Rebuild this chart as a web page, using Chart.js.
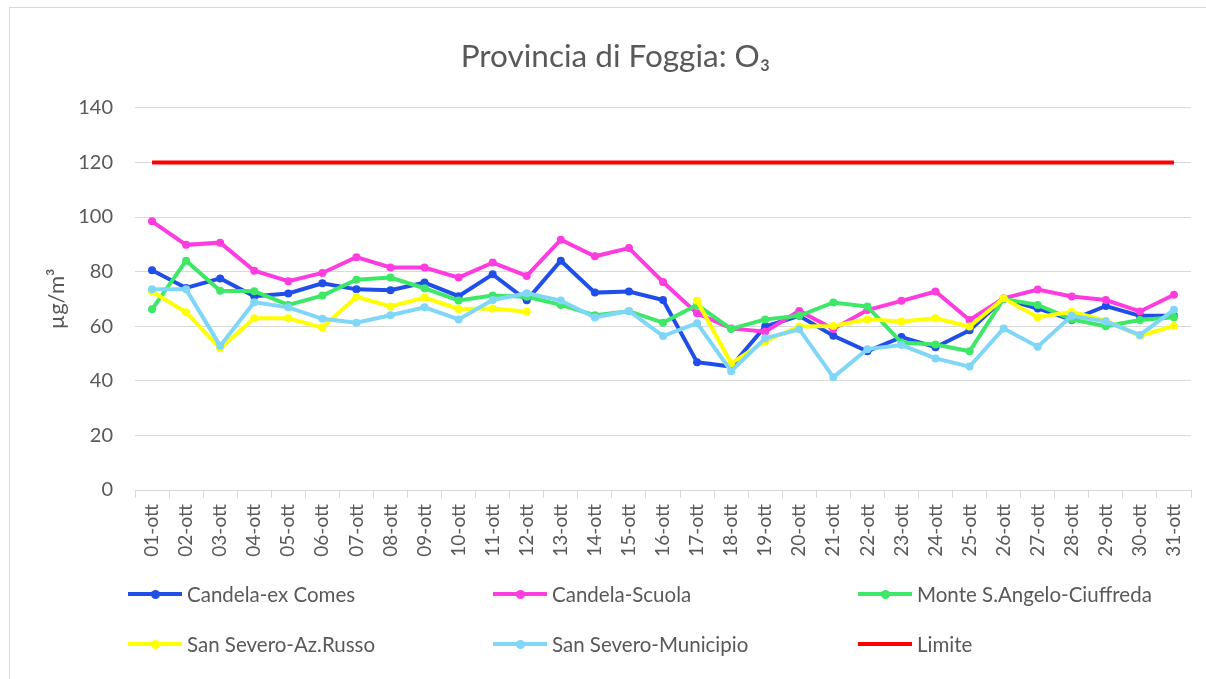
<!DOCTYPE html>
<html lang="it">
<head>
<meta charset="utf-8">
<title>Provincia di Foggia: O3</title>
<script src="https://cdn.jsdelivr.net/npm/chart.js@4.4.1/dist/chart.umd.min.js"></script>
<style>
  html, body { margin: 0; padding: 0; background: #fff; }
  #wrap { position: relative; width: 1206px; height: 679px; overflow: hidden; }
  #cornice { position: absolute; left: 9px; top: 7px; width: 1210px; height: 690px; border: 1px solid #d9d9d9; box-sizing: border-box; }
  #grafico { position: absolute; left: 0; top: 0; }
  .voce { position: absolute; display: flex; align-items: center; font-family: Lato, "Noto Sans", sans-serif; font-size: 20.5px; color: #595959; white-space: nowrap; }
  .segno { position: relative; width: 54px; height: 4px; margin-right: 5px; }
  .segno i { position: absolute; left: 23px; top: -2.5px; width: 9px; height: 9px; border-radius: 50%; }
</style>
</head>
<body>
<div id="wrap">
  <div id="cornice"></div>
  <canvas id="grafico" width="1206" height="679"></canvas>
  <div id="legenda"></div>
</div>
<script>
// Etichette dei giorni
const giorni = ['01-ott','02-ott','03-ott','04-ott','05-ott','06-ott','07-ott','08-ott','09-ott','10-ott',
  '11-ott','12-ott','13-ott','14-ott','15-ott','16-ott','17-ott','18-ott','19-ott','20-ott',
  '21-ott','22-ott','23-ott','24-ott','25-ott','26-ott','27-ott','28-ott','29-ott','30-ott','31-ott'];

// Valori delle stazioni (µg/m³)
const candelaExComes = [80.5, 74, 77.5, 71, 72, 75.7, 73.5, 73.2, 76, 71, 79, 69.5, 84, 72.3, 72.7, 69.6,
  46.8, 45.2, 59.9, 63.8, 56.5, 50.8, 56, 52.3, 58.5, 70, 66.5, 62.3, 67.4, 63.8, 63.8];
const candelaScuola = [98.4, 89.8, 90.6, 80.3, 76.5, 79.5, 85.3, 81.5, 81.5, 77.8, 83.3, 78.4, 91.7, 85.6, 88.6, 76.2,
  64.7, 59.2, 58, 65.6, 59, 65.9, 69.3, 72.7, 62.3, 70.2, 73.4, 70.9, 69.6, 65.4, 71.5];
const monteSAngelo = [66.2, 84, 73, 72.8, 67.8, 71.2, 77, 77.8, 73.9, 69.4, 71.2, 70.8, 67.8, 64, 65.5, 61.3,
  67.8, 59, 62.5, 63.8, 68.7, 67.2, 54, 53.3, 50.8, 70, 67.8, 62.5, 60, 62.3, 63.3];
const sanSeveroRusso = [72.7, 65.1, 51.9, 62.9, 62.9, 59.5, 70.8, 67.2, 70.5, 66.3, 66.5, 65.3, null, null, null, null,
  69.3, 46.4, 54.5, 59.9, 60.1, 62.5, 61.7, 62.9, 59.9, 70.2, 63.3, 65.3, 62, 56.5, 60.1];
const sanSeveroMunicipio = [73.5, 73.5, 52.8, 68.8, 66.9, 62.7, 61.3, 64, 66.9, 62.5, 69.6, 72.1, 69.4, 63.2, 65.6, 56.4,
  61.1, 43.5, 55.6, 58.9, 41.3, 51.6, 53.1, 48.2, 45.2, 59.2, 52.5, 63.8, 61.7, 56.8, 66];
const limite = [120, 120, 120, 120, 120, 120, 120, 120, 120, 120, 120, 120, 120, 120, 120, 120,
  120, 120, 120, 120, 120, 120, 120, 120, 120, 120, 120, 120, 120, 120, 120];

const tickY = [0, 20, 40, 60, 80, 100, 120, 140];

const grigio = '#595959';
const font = 'Lato, "Noto Sans", sans-serif';

// Serie: nome, valori, colore
const serie = [
  { nome: 'Candela-ex Comes', valori: candelaExComes, colore: '#1f4fe8' },
  { nome: 'Candela-Scuola', valori: candelaScuola, colore: '#ff3ce0' },
  { nome: 'Monte S.Angelo-Ciuffreda', valori: monteSAngelo, colore: '#3ce866' },
  { nome: 'San Severo-Az.Russo', valori: sanSeveroRusso, colore: '#ffff00' },
  { nome: 'San Severo-Municipio', valori: sanSeveroMunicipio, colore: '#80d6f7' },
  { nome: 'Limite', valori: limite, colore: '#ff0000' }
];

const datasets = serie.map((s, i) => ({
  label: s.nome,
  data: s.valori,
  borderColor: s.colore,
  backgroundColor: s.colore,
  borderWidth: 4,
  pointRadius: s.nome === 'Limite' ? 0 : 4,
  pointBorderWidth: 0,
  pointHoverRadius: 4,
  tension: 0,
  order: 10 - i
}));

const ctx = document.getElementById('grafico');
const grafico = new Chart(ctx, {
  type: 'line',
  data: { labels: giorni, datasets: datasets },
  options: {
    responsive: false,
    animation: false,
    layout: { padding: { left: 40, right: 15, top: 0, bottom: 104 } },
    plugins: {
      legend: { display: false },
      tooltip: { enabled: false },
      title: {
        display: true,
        text: 'Provincia di Foggia: O₃',
        color: grigio,
        font: { family: font, size: 31.5, weight: 'normal' },
        padding: { top: 38, bottom: 32 }
      }
    },
    scales: {
      x: {
        offset: true,
        afterFit: (scale) => { scale.height = 85; },
        grid: { drawOnChartArea: false, drawTicks: true, tickLength: 8, offset: true, color: '#d9d9d9' },
        border: { display: true, color: '#d9d9d9' },
        ticks: { color: grigio, font: { family: font, size: 19 }, minRotation: 90, maxRotation: 90, padding: 6, autoSkip: false }
      },
      y: {
        min: 0,
        max: 140,
        afterFit: (scale) => { scale.width = 95; },
        afterBuildTicks: (scale) => { scale.ticks = tickY.map(v => ({ value: v })); },
        grid: { color: '#d9d9d9', drawTicks: false },
        border: { display: false },
        ticks: { color: grigio, font: { family: font, size: 20 }, padding: 22 },
        title: { display: true, text: 'µg/m³', color: grigio, font: { family: font, size: 22 }, padding: { top: 4, bottom: 4 } }
      }
    }
  }
});

// Legenda in tre colonne, due righe
const legenda = document.getElementById('legenda');
const colonne = [128, 493, 858];
const righe = [594, 644];
serie.forEach((s, i) => {
  const voce = document.createElement('div');
  voce.className = 'voce';
  voce.style.left = colonne[i % 3] + 'px';
  voce.style.top = (righe[Math.floor(i / 3)] - 12) + 'px';
  voce.style.height = '24px';
  const segno = document.createElement('span');
  segno.className = 'segno';
  segno.style.background = s.colore;
  if (s.nome !== 'Limite') {
    const punto = document.createElement('i');
    punto.style.background = s.colore;
    segno.appendChild(punto);
  }
  voce.appendChild(segno);
  voce.appendChild(document.createTextNode(s.nome));
  legenda.appendChild(voce);
});
</script>
</body>
</html>
